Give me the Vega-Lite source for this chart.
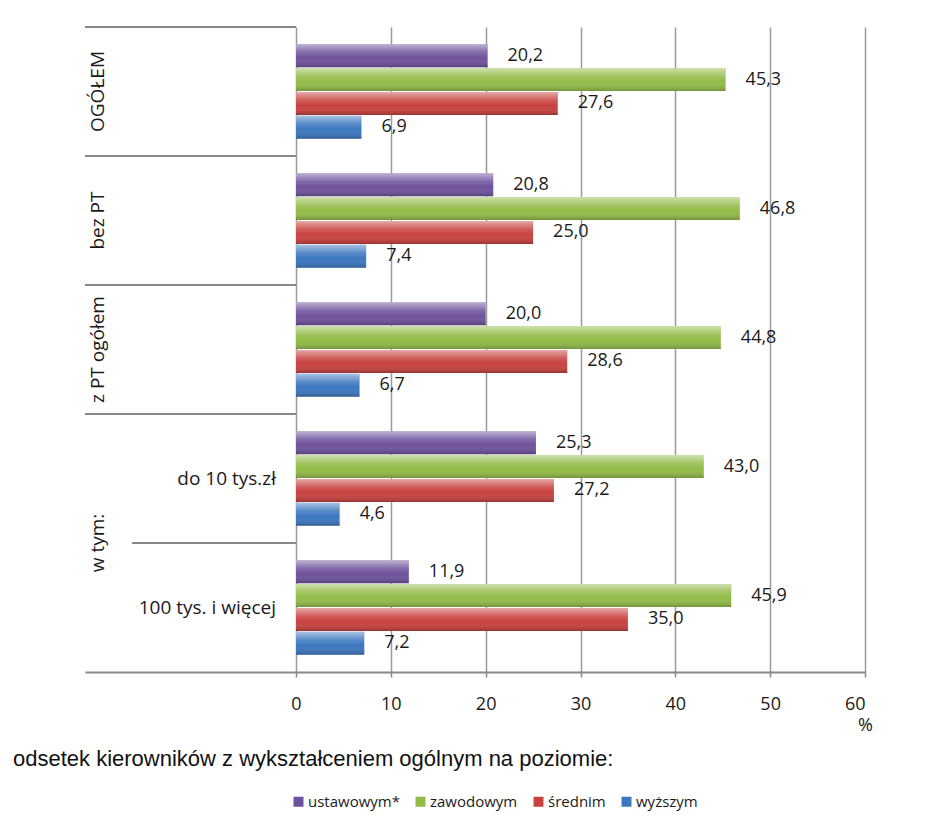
{
  "$schema": "https://vega.github.io/schema/vega-lite/v6.json",
  "width": 780,
  "height": 645,
  "autosize": {"type": "none"},
  "padding": {"left": 85, "top": 27, "right": 65, "bottom": 160},
  "background": "white",
  "config": {
    "view": {"stroke": null},
    "font": "Open Sans",
    "locale": {"number": {"decimal": ",", "thousands": " ", "grouping": [3], "currency": ["", " zł"]}}
  },
  "title": {
    "text": "odsetek kierowników z wykształceniem ogólnym na poziomie:",
    "orient": "bottom",
    "anchor": "start",
    "frame": "group",
    "dx": -72,
    "offset": -51,
    "baseline": "middle",
    "font": "Liberation Sans",
    "fontSize": 22,
    "fontWeight": "normal",
    "color": "#111111"
  },
  "datasets": {
    "bars": [
      {"group": "OGÓŁEM", "series": "ustawowym*", "value": 20.2},
      {"group": "OGÓŁEM", "series": "zawodowym", "value": 45.3},
      {"group": "OGÓŁEM", "series": "średnim", "value": 27.6},
      {"group": "OGÓŁEM", "series": "wyższym", "value": 6.9},
      {"group": "bez PT", "series": "ustawowym*", "value": 20.8},
      {"group": "bez PT", "series": "zawodowym", "value": 46.8},
      {"group": "bez PT", "series": "średnim", "value": 25.0},
      {"group": "bez PT", "series": "wyższym", "value": 7.4},
      {"group": "z PT ogółem", "series": "ustawowym*", "value": 20.0},
      {"group": "z PT ogółem", "series": "zawodowym", "value": 44.8},
      {"group": "z PT ogółem", "series": "średnim", "value": 28.6},
      {"group": "z PT ogółem", "series": "wyższym", "value": 6.7},
      {"group": "do 10 tys.zł", "series": "ustawowym*", "value": 25.3},
      {"group": "do 10 tys.zł", "series": "zawodowym", "value": 43.0},
      {"group": "do 10 tys.zł", "series": "średnim", "value": 27.2},
      {"group": "do 10 tys.zł", "series": "wyższym", "value": 4.6},
      {"group": "100 tys. i więcej", "series": "ustawowym*", "value": 11.9},
      {"group": "100 tys. i więcej", "series": "zawodowym", "value": 45.9},
      {"group": "100 tys. i więcej", "series": "średnim", "value": 35.0},
      {"group": "100 tys. i więcej", "series": "wyższym", "value": 7.2}
    ]
  },
  "layer": [
    {
      "data": {"name": "bars"},
      "mark": {"type": "bar"},
      "encoding": {
        "y": {"field": "group", "type": "nominal", "scale": {"domain": ["OGÓŁEM", "bez PT", "z PT ogółem", "do 10 tys.zł", "100 tys. i więcej"], "paddingInner": 0, "paddingOuter": 0}, "axis": null},
        "yOffset": {"field": "series", "type": "nominal", "scale": {"domain": ["ustawowym*", "zawodowym", "średnim", "wyższym"], "paddingInner": 0.04, "paddingOuter": 0.72}},
        "x": {
          "field": "value", "type": "quantitative",
          "scale": {"domain": [-22.25, 60], "nice": false, "zero": false},
          "axis": {
            "values": [0, 10, 20, 30, 40, 50, 60],
            "grid": true, "gridColor": "#9a9a9a", "gridWidth": 1.5,
            "domainColor": "#888888", "domainWidth": 2,
            "tickColor": "#888888", "tickSize": 5, "tickWidth": 1.5,
            "labelFont": "Open Sans", "labelFontSize": 18, "labelColor": "#1a1a1a", "labelPadding": 18,
            "title": "%", "titleAnchor": "end", "titleAlign": "center", "titleFont": "Open Sans", "titleFontSize": 18, "titleFontWeight": "normal", "titleColor": "#1a1a1a", "titlePadding": 3
          }
        },
        "x2": {"datum": 0},
        "color": {
          "field": "series", "type": "nominal",
          "scale": {"domain": ["ustawowym*", "zawodowym", "średnim", "wyższym"], "range": ["#6f529d", "#93bb48", "#c8423f", "#3c77bf"]},
          "legend": {
            "orient": "none", "legendX": 206, "legendY": 767, "direction": "horizontal", "title": null,
            "labelFont": "Open Sans", "labelFontSize": 15, "labelColor": "#1a1a1a",
            "symbolType": "square", "symbolSize": 100, "symbolStrokeWidth": 0, "labelOffset": 2, "columnPadding": 13, "padding": 0
          }
        }
      }
    },
    {
      "data": {"name": "bars"},
      "mark": {"type": "bar", "fill": {"gradient": "linear", "x1": 0, "y1": 0, "x2": 0, "y2": 1, "stops": [
        {"offset": 0, "color": "rgba(255,255,255,0.55)"},
        {"offset": 0.35, "color": "rgba(255,255,255,0.15)"},
        {"offset": 0.6, "color": "rgba(255,255,255,0)"},
        {"offset": 1, "color": "rgba(0,0,0,0.22)"}
      ]}},
      "encoding": {
        "y": {"field": "group", "type": "nominal", "scale": {"domain": ["OGÓŁEM", "bez PT", "z PT ogółem", "do 10 tys.zł", "100 tys. i więcej"]}, "axis": null},
        "yOffset": {"field": "series", "type": "nominal", "scale": {"domain": ["ustawowym*", "zawodowym", "średnim", "wyższym"]}},
        "x": {"field": "value", "type": "quantitative"},
        "x2": {"datum": 0}
      }
    },
    {
      "data": {"name": "bars"},
      "mark": {"type": "text", "align": "left", "baseline": "middle", "dx": 20, "font": "Open Sans", "fontSize": 18, "color": "#1a1a1a"},
      "encoding": {
        "y": {"field": "group", "type": "nominal", "scale": {"domain": ["OGÓŁEM", "bez PT", "z PT ogółem", "do 10 tys.zł", "100 tys. i więcej"]}, "axis": null},
        "yOffset": {"field": "series", "type": "nominal", "scale": {"domain": ["ustawowym*", "zawodowym", "średnim", "wyższym"]}},
        "x": {"field": "value", "type": "quantitative"},
        "text": {"field": "value", "type": "quantitative", "format": ".1f"}
      }
    },
    {
      "data": {"values": [{"group": "OGÓŁEM"}, {"group": "bez PT"}, {"group": "z PT ogółem"}, {"group": "do 10 tys.zł"}]},
      "mark": {"type": "rule", "color": "#888888", "strokeWidth": 2},
      "encoding": {
        "y": {"field": "group", "type": "nominal", "bandPosition": 0, "axis": null},
        "x": {"datum": -22.25},
        "x2": {"datum": 0}
      }
    },
    {
      "data": {"values": [{"group": "100 tys. i więcej"}]},
      "mark": {"type": "rule", "color": "#888888", "strokeWidth": 2},
      "encoding": {
        "y": {"field": "group", "type": "nominal", "bandPosition": 0, "axis": null},
        "x": {"datum": -17.29},
        "x2": {"datum": 0}
      }
    },
    {
      "data": {"values": [{"group": "OGÓŁEM"}, {"group": "bez PT"}, {"group": "z PT ogółem"}]},
      "mark": {"type": "text", "angle": 270, "align": "center", "baseline": "middle", "font": "Open Sans", "fontSize": 19, "color": "#1a1a1a"},
      "encoding": {
        "y": {"field": "group", "type": "nominal", "axis": null},
        "x": {"datum": -20.83},
        "text": {"field": "group"}
      }
    },
    {
      "data": {"values": [{"group": "100 tys. i więcej", "label": "w tym:"}]},
      "mark": {"type": "text", "angle": 270, "align": "center", "baseline": "middle", "font": "Open Sans", "fontSize": 19, "color": "#1a1a1a"},
      "encoding": {
        "y": {"field": "group", "type": "nominal", "bandPosition": 0, "axis": null},
        "x": {"datum": -20.83},
        "text": {"field": "label"}
      }
    },
    {
      "data": {"values": [{"group": "do 10 tys.zł"}, {"group": "100 tys. i więcej"}]},
      "mark": {"type": "text", "align": "right", "baseline": "middle", "font": "Open Sans", "fontSize": 19, "color": "#1a1a1a"},
      "encoding": {
        "y": {"field": "group", "type": "nominal", "axis": null},
        "x": {"datum": -2.11},
        "text": {"field": "group"}
      }
    }
  ]
}
